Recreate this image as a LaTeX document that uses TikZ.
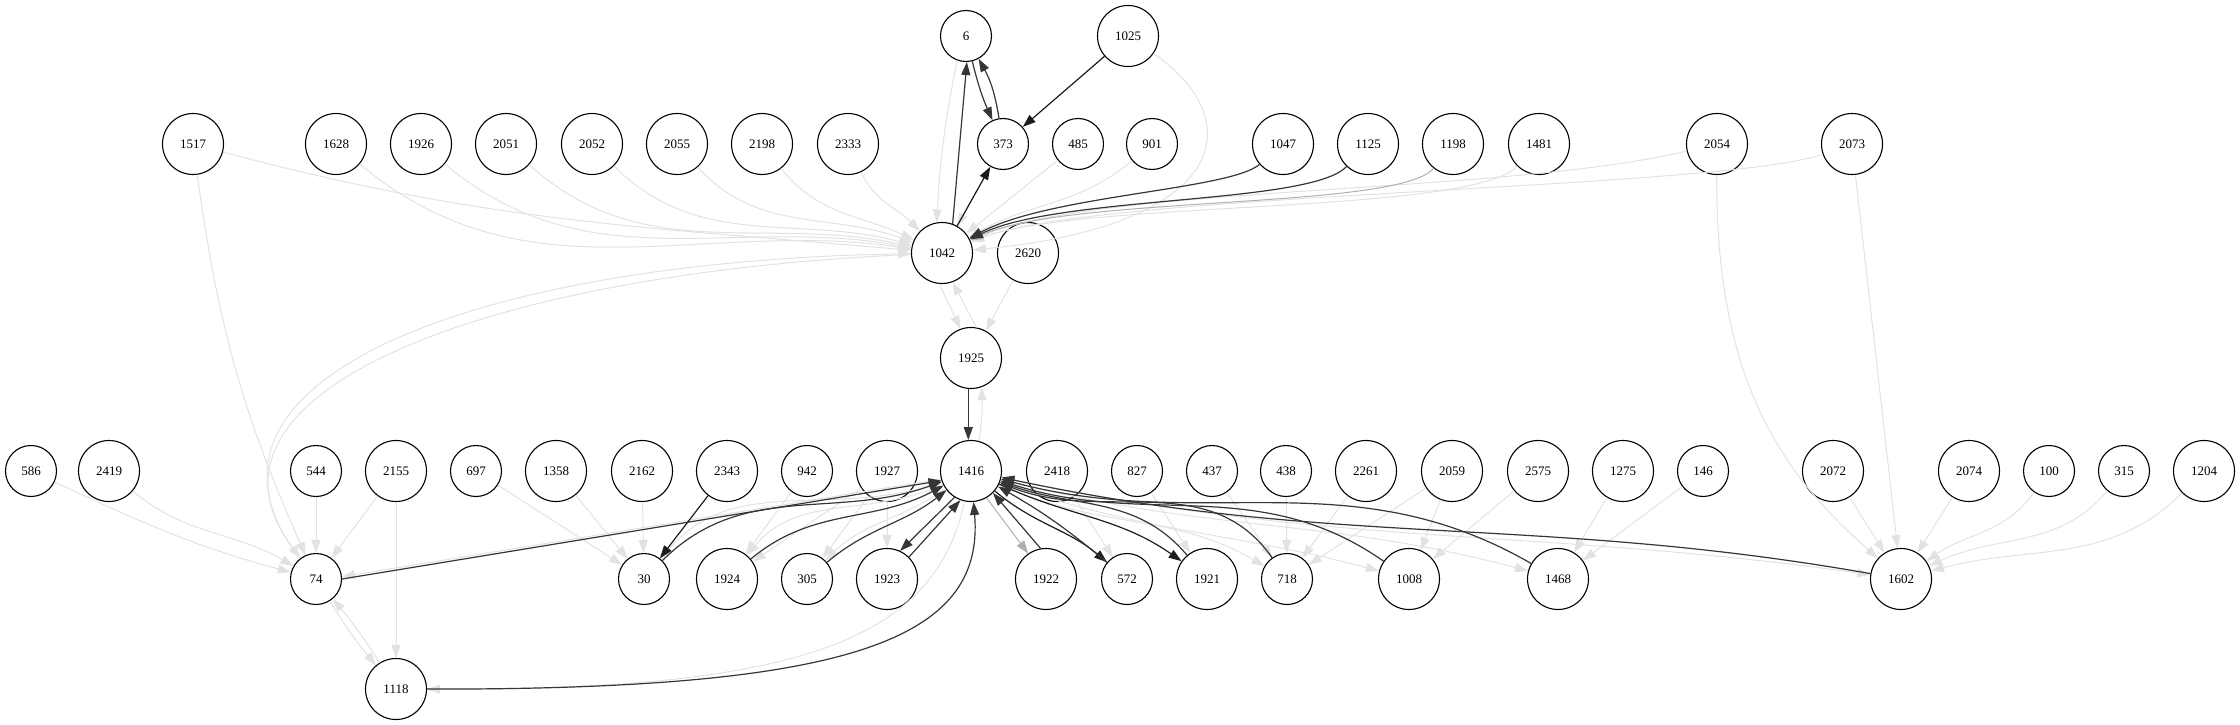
\documentclass[tikz,border=0pt]{standalone}
\usepackage{fontspec}
\setmainfont{Liberation Serif}
\usetikzlibrary{arrows.meta}

\definecolor{elight}{HTML}{E2E2E2}
\definecolor{egrey}{HTML}{B0B0B0}
\definecolor{edark}{HTML}{363636}
\definecolor{eblack}{HTML}{1C1C1C}

\begin{document}
\begin{tikzpicture}[x=1pt, y=-1pt, >={Triangle[length=13pt,width=9pt]},
    vtx/.style={circle, draw=black, line width=1.1pt, minimum size=61pt, inner sep=0pt, font=\fontsize{13}{15}\selectfont},
    sm/.style={vtx, minimum size=51pt},
    lt/.style={->, draw=elight, line width=1pt},
    gr/.style={->, draw=egrey, line width=1pt},
    dk/.style={->, draw=edark, line width=1.2pt},
    bk/.style={->, draw=eblack, line width=1.2pt}]
    \useasboundingbox (0,0) rectangle (2240,725);

    % top
    \node[sm]  (v6)    at (966,36)  {6};
    \node[vtx] (v1025) at (1128,36) {1025};
    \node[vtx] (v1517) at (193,144) {1517};
    \node[vtx] (v1628) at (336,144) {1628};
    \node[vtx] (v1926) at (421,144) {1926};
    \node[vtx] (v2051) at (506,144) {2051};
    \node[vtx] (v2052) at (592,144) {2052};
    \node[vtx] (v2055) at (677,144) {2055};
    \node[vtx] (v2198) at (762,144) {2198};
    \node[vtx] (v2333) at (848,144) {2333};
    \node[sm]  (v373)  at (1003,144) {373};
    \node[sm]  (v485)  at (1078,144) {485};
    \node[sm]  (v901)  at (1152,144) {901};
    \node[vtx] (v1047) at (1283,144) {1047};
    \node[vtx] (v1125) at (1368,144) {1125};
    \node[vtx] (v1198) at (1453,144) {1198};
    \node[vtx] (v1481) at (1539,144) {1481};
    \node[vtx] (v2054) at (1717,144) {2054};
    \node[vtx] (v2073) at (1852,144) {2073};
    \node[vtx] (v1042) at (942,253) {1042};
    \node[vtx] (v2620) at (1028,253) {2620};
    \node[vtx] (v1925) at (971,358) {1925};

    % middle row
    \node[sm]  (v586)  at (31,471)  {586};
    \node[vtx] (v2419) at (109,471) {2419};
    \node[sm]  (v544)  at (316,471) {544};
    \node[vtx] (v2155) at (396,471) {2155};
    \node[sm]  (v697)  at (476,471) {697};
    \node[vtx] (v1358) at (556,471) {1358};
    \node[vtx] (v2162) at (642,471) {2162};
    \node[vtx] (v2343) at (727,471) {2343};
    \node[sm]  (v942)  at (807,471) {942};
    \node[vtx] (v1927) at (887,471) {1927};
    \node[vtx] (v1416) at (971,471) {1416};
    \node[vtx] (v2418) at (1057,471) {2418};
    \node[sm]  (v827)  at (1137,471) {827};
    \node[sm]  (v437)  at (1212,471) {437};
    \node[sm]  (v438)  at (1286,471) {438};
    \node[vtx] (v2261) at (1366,471) {2261};
    \node[vtx] (v2059) at (1452,471) {2059};
    \node[vtx] (v2575) at (1538,471) {2575};
    \node[vtx] (v1275) at (1623,471) {1275};
    \node[sm]  (v146)  at (1703,471) {146};
    \node[vtx] (v2072) at (1833,471) {2072};
    \node[vtx] (v2074) at (1969,471) {2074};
    \node[sm]  (v100)  at (2049,471) {100};
    \node[sm]  (v315)  at (2124,471) {315};
    \node[vtx] (v1204) at (2204,471) {1204};

    % bottom row
    \node[sm]  (v74)   at (316,579)  {74};
    \node[sm]  (v30)   at (644,579)  {30};
    \node[vtx] (v1924) at (727,579)  {1924};
    \node[sm]  (v305)  at (807,579)  {305};
    \node[vtx] (v1923) at (887,579)  {1923};
    \node[vtx] (v1922) at (1046,579) {1922};
    \node[sm]  (v572)  at (1127,579) {572};
    \node[vtx] (v1921) at (1207,579) {1921};
    \node[sm]  (v718)  at (1287,579) {718};
    \node[vtx] (v1008) at (1409,579) {1008};
    \node[vtx] (v1468) at (1558,579) {1468};
    \node[vtx] (v1602) at (1901,579) {1602};
    \node[vtx] (v1118) at (396,689)  {1118};

    % light edges
    \draw[lt] (v1517) to[out=-15, in=175] (v1042);
    \draw[lt] (v1628) to[out=-40, in=172] (v1042);
    \draw[lt] (v1926) to[out=-40, in=170] (v1042);
    \draw[lt] (v2051) to[out=-42, in=168] (v1042);
    \draw[lt] (v2052) to[out=-45, in=165] (v1042);
    \draw[lt] (v2055) to[out=-48, in=160] (v1042);
    \draw[lt] (v2198) to[out=-52, in=155] (v1042);
    \draw[lt] (v2333) to[out=-65, in=135] (v1042);
    \draw[lt] (v6.250) to[bend right=4] (v1042.100);
    \draw[lt] (v373) -- (v1042);
    \draw[lt] (v485) -- (v1042);
    \draw[lt] (v901) to[out=-140, in=30] (v1042);
    \draw[lt] (v1025) .. controls (1250,120) and (1230,225) .. (v1042);
    \draw[lt] (v1481) .. controls (1470,215) and (1080,200) .. (v1042);
    \draw[lt] (v2054) .. controls (1500,195) and (1100,185) .. (v1042);
    \draw[lt] (v2073) .. controls (1720,190) and (1100,192) .. (v1042);
    \draw[gr] (v1198) .. controls (1400,210) and (1070,195) .. (v1042);

    \draw[lt] (v1042.-95) -- (v1925.110);
    \draw[lt] (v1925.80) -- (v1042.-70);
    \draw[lt] (v2620) -- (v1925);
    \draw[lt] (v1416.75) to[bend right=5] (v1925.-70);

    \draw[lt] (v1517) to[bend right=8] (v74);
    \draw[lt] (v586) to[out=-25, in=165] (v74);
    \draw[lt] (v2419) to[out=-40, in=150] (v74);
    \draw[lt] (v544) -- (v74);
    \draw[lt] (v2155) -- (v74);
    \draw[lt] (v2155) -- (v1118);
    \draw[lt] (v74) to[bend right=4] (v1118);
    \draw[lt] (v1118) to[bend right=4] (v74);
    \draw[lt] (v74) .. controls (165,385) and (460,262) .. (v1042);
    \draw[lt] (v1042) .. controls (475,274) and (178,395) .. (v74);
    \draw[lt] (v1416.195) -- (v74.5);

    \draw[lt] (v697) -- (v30);
    \draw[lt] (v1358) -- (v30);
    \draw[lt] (v2162) -- (v30);
    \draw[lt] (v1416) to[out=200, in=50] (v30);
    \draw[lt] (v942) -- (v1924);
    \draw[lt] (v1927) -- (v1924);
    \draw[lt] (v1416) to[out=205, in=50] (v1924);
    \draw[lt] (v1927) -- (v305);
    \draw[lt] (v1416) to[out=215, in=45] (v305);
    \draw[lt] (v1927) -- (v1923);
    \draw[lt] (v1416) .. controls (935,640) and (800,690) .. (v1118);

    \draw[lt] (v2418) -- (v572);
    \draw[lt] (v827) -- (v1921);
    \draw[lt] (v437) -- (v718);
    \draw[lt] (v438) -- (v718);
    \draw[lt] (v2261) -- (v718);
    \draw[lt] (v2059) -- (v718);
    \draw[lt] (v1416) to[out=-25, in=150] (v718);
    \draw[lt] (v2059) -- (v1008);
    \draw[lt] (v2575) -- (v1008);
    \draw[lt] (v1416) to[out=-20, in=165] (v1008);
    \draw[lt] (v1275) -- (v1468);
    \draw[lt] (v146) -- (v1468);
    \draw[lt] (v1416) to[out=-15, in=165] (v1468);
    \draw[lt] (v1416) to[out=-12, in=172] (v1602);
    \draw[lt] (v2054) .. controls (1715,390) and (1790,480) .. (v1602);
    \draw[lt] (v2073) -- (v1602);
    \draw[lt] (v2072) -- (v1602);
    \draw[lt] (v2074) -- (v1602);
    \draw[lt] (v100) to[out=-125, in=35] (v1602);
    \draw[lt] (v315) to[out=-130, in=25] (v1602);
    \draw[lt] (v1204) to[out=-135, in=15] (v1602);
    \draw[gr] (v1416.-60) -- (v1922.125);

    % dark edges
    \draw[dk] (v1125) .. controls (1310,205) and (1060,195) .. (v1042);
    \draw[dk] (v1047) .. controls (1230,190) and (1050,195) .. (v1042);
    \draw[dk] (v1042.70) -- (v6.272);
    \draw[bk] (v1042) -- (v373);
    \draw[dk] (v6) to[bend right=5] (v373);
    \draw[dk] (v373) to[bend right=10] (v6);
    \draw[bk] (v1025) -- (v373);
    \draw[dk] (v1925.-95) -- (v1416.95);

    \draw[dk] (v74.0) -- (v1416.198);
    \draw[bk] (v2343) -- (v30);
    \draw[dk] (v30) to[out=45, in=200] (v1416);
    \draw[dk] (v1924) to[out=40, in=208] (v1416);
    \draw[dk] (v305) to[out=40, in=218] (v1416);
    \draw[dk] (v1416.238) -- (v1923.65);
    \draw[dk] (v1923.45) -- (v1416.250);
    \draw[dk] (v1118) .. controls (850,690) and (985,640) .. (v1416);

    \draw[dk] (v1922.100) -- (v1416.-45);
    \draw[bk] (v1416) to[out=-40, in=140] (v572);
    \draw[dk] (v572) to[bend right=5] (v1416);
    \draw[bk] (v1416) to[out=-25, in=145] (v1921);
    \draw[dk] (v1921) to[out=130, in=-20] (v1416);
    \draw[dk] (v718) to[out=125, in=-22] (v1416);
    \draw[dk] (v1008) to[out=145, in=-18] (v1416);
    \draw[dk] (v1468) to[out=150, in=-15] (v1416);
    \draw[dk] (v1602) to[out=170, in=-12] (v1416);
\end{tikzpicture}
\end{document}
